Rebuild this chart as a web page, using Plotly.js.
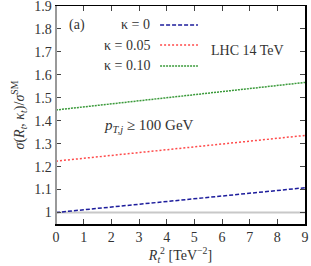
<!DOCTYPE html>
<html><head><meta charset="utf-8">
<script src="https://cdn.plot.ly/plotly-3.0.1.min.js"></script>
<style>html,body{margin:0;padding:0;background:#fff}#c{width:311px;height:266px}</style>
</head><body><div id="c"></div>
<script>
const rt2 = [0, 9];
const kappa0 = [1.0, 1.108];
const kappa005 = [1.224, 1.336];
const kappa010 = [1.447, 1.567];
const smRef = [1, 1];
const xTicks = [0,1,2,3,4,5,6,7,8,9];
const yTicks = [1,1.1,1.2,1.3,1.4,1.5,1.6,1.7,1.8,1.9];
const yTickText = ['1','1.1','1.2','1.3','1.4','1.5','1.6','1.7','1.8','1.9'];
const labels = ['κ = 0','κ = 0.05','κ = 0.10'];
const colors = ['#1c1c9c','#ff4a4a','#3a9a3a'];
const dashes = ['4px,2px','2px,2px','2px,1px'];

const F = 'Liberation Serif, DejaVu Serif, serif';
const FS = 14;
const series = [kappa0, kappa005, kappa010];
const traces = [{x: rt2, y: smRef, mode:'lines', line:{color:'#c8c8c8', width:2}, hoverinfo:'skip'}];
series.forEach((s,i)=>traces.push({x: rt2, y: s, mode:'lines', line:{color:colors[i], width:1.5, dash:dashes[i]}}));

const legY = [0.913, 0.821, 0.725];
const annotations = labels.map((t,i)=>({xref:'paper', yref:'paper', x:0.386, y:legY[i], xanchor:'right', yanchor:'middle', text:t, showarrow:false, font:{family:F, size:FS, color:'#333'}}));
annotations.push({xref:'paper', yref:'paper', x:0.083, y:0.913, xanchor:'center', yanchor:'middle', text:'(a)', showarrow:false, font:{family:F, size:FS, color:'#333'}});
annotations.push({xref:'paper', yref:'paper', x:0.771, y:0.798, xanchor:'center', yanchor:'middle', text:'LHC 14 TeV', showarrow:false, font:{family:F, size:FS, color:'#333'}});
annotations.push({xref:'paper', yref:'paper', x:0.375, y:0.45, xanchor:'center', yanchor:'middle', text:'<i>p</i><sub><i>T,j</i></sub> ≥ 100 GeV', showarrow:false, font:{family:F, size:15, color:'#333'}});

const shapes = labels.map((t,i)=>({type:'line', xref:'paper', yref:'paper', x0:0.418, x1:0.570, y0:legY[i], y1:legY[i], line:{color:colors[i], width:1.5, dash:dashes[i]}}));
shapes.push({type:'line', xref:'paper', yref:'paper', x0:0, x1:0, y0:0, y1:1, line:{color:'#999', width:2}});

Plotly.newPlot('c', traces, {
  width:311, height:266,
  margin:{l:56, r:6, t:6, b:42},
  showlegend:false,
  paper_bgcolor:'#fff', plot_bgcolor:'#fff',
  font:{family:F, size:FS, color:'#333'},
  xaxis:{range:[0,9.0001], tickvals:xTicks, ticks:'inside', ticklen:5, showline:true, linecolor:'#000', linewidth:1.5, mirror:'ticks', showgrid:false, zeroline:false,
    ticklabeloverflow:'allow',
    tickfont:{family:F, size:FS, color:'#333'},
    title:{text:'<i>R</i><sub><i>t</i></sub><sup>2</sup> [TeV<sup>−2</sup>]', font:{family:F, size:FS, color:'#333'}, standoff:4}},
  yaxis:{range:[0.95,1.9002], tickvals:yTicks, ticktext:yTickText, ticks:'inside', ticklen:5, showline:true, linecolor:'#000', linewidth:1.5, mirror:'ticks', showgrid:false, zeroline:false,
    ticklabeloverflow:'allow',
    tickfont:{family:F, size:FS, color:'#333'},
    title:{text:'<i>σ</i>(<i>R<sub>t</sub></i>, <i>κ<sub>t</sub></i>)/<i>σ</i><sup>SM</sup>', font:{family:F, size:FS, color:'#333'}, standoff:6}},
  annotations: annotations,
  shapes: shapes
}, {displayModeBar:false, staticPlot:true});
</script></body></html>
